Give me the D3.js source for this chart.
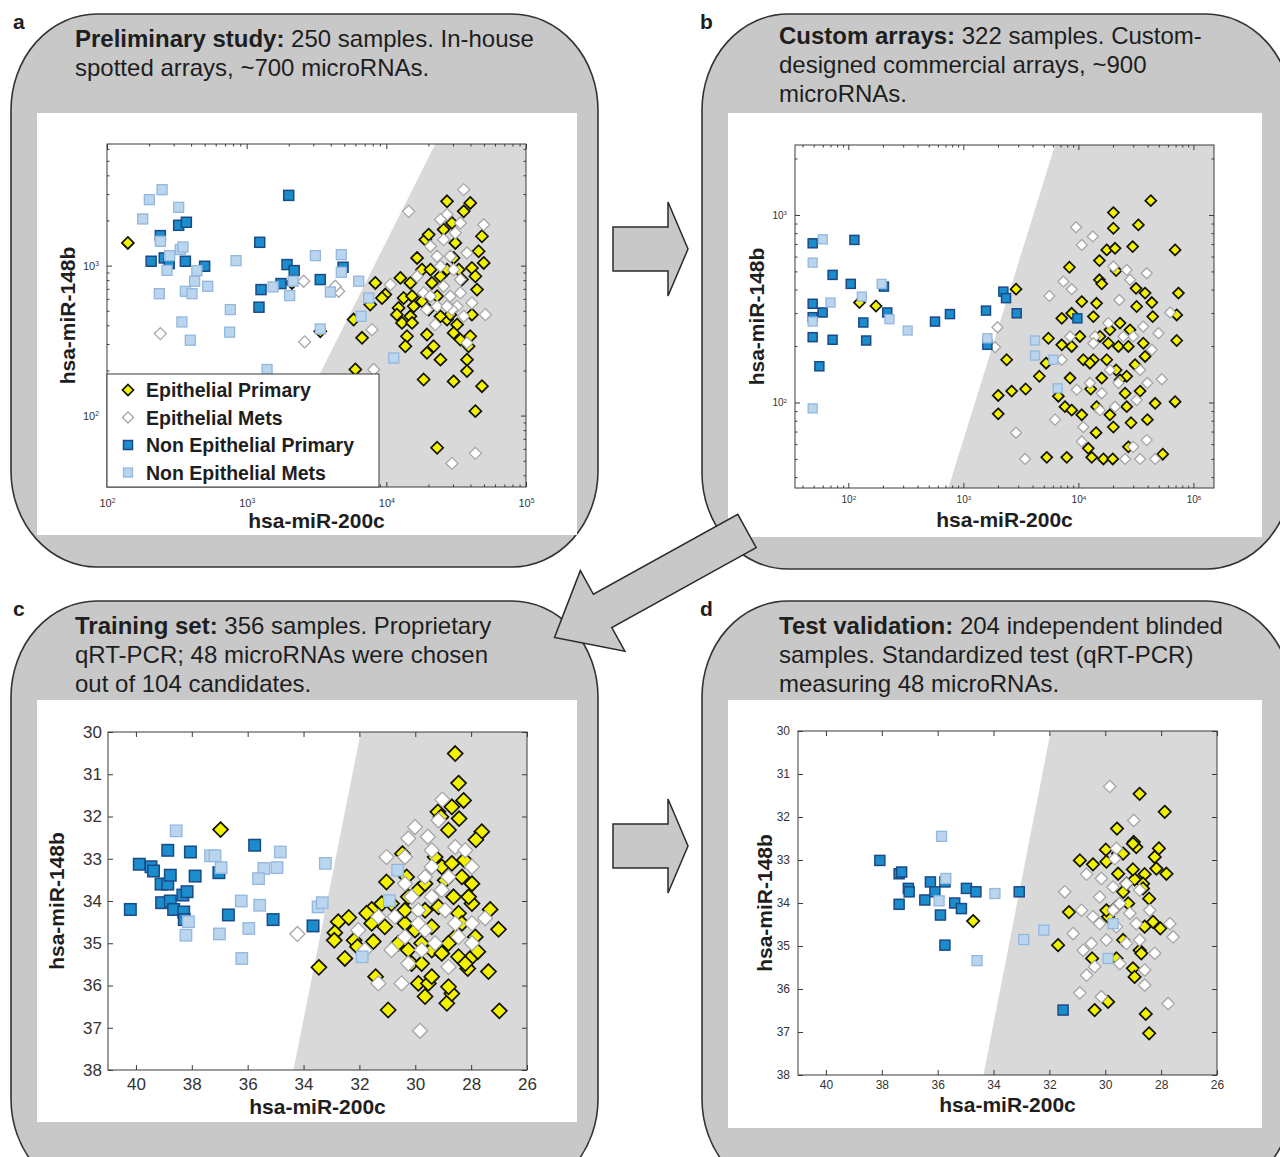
<!DOCTYPE html>
<html>
<head>
<meta charset="utf-8">
<script src="https://cdn.jsdelivr.net/npm/d3@7"></script>
<style>
    body { margin: 0; background: #fff; }
    svg { display: block; font-family: "Liberation Sans", Arial, sans-serif; }
</style>
</head>
<body>
<svg id="fig" width="1280" height="1157"></svg>
<script>
// ---- Series names and axis labels ----
var seriesNames = ["Epithelial Primary", "Epithelial Mets", "Non Epithelial Primary", "Non Epithelial Mets"];
var xAxisLabel = "hsa-miR-200c";
var yAxisLabel = "hsa-miR-148b";

// ---- Tick values ----
var logTicks = [100, 1000, 10000, 100000];
var ctTicksX = [40, 38, 36, 34, 32, 30, 28, 26];
var ctTicksY = [30, 31, 32, 33, 34, 35, 36, 37, 38];

// ---- Panel a: preliminary study (expression, log scale) ----
var aEpiPrimary = [[141,1416],[2110,766],[3365,365],[27200,2685],[39900,2618],[35800,2300],[48400,1570],[45800,1247],[49800,1042],[41000,964],[43400,849],[44600,692],[41000,471],[39900,338],[38800,290],[37800,236],[37800,198],[48400,157],[43400,107],[23100,61],[30300,169],[18500,174],[19000,1490],[20100,1610],[16600,1125],[18000,940],[12600,828],[14860,766],[8340,766],[9840,641],[9310,608],[13300,608],[15280,625],[18000,578],[15700,535],[12240,522],[11900,471],[14860,459],[12940,415],[15280,415],[7670,550],[5830,437],[6700,330],[6000,203],[14060,338],[13680,290],[19540,347],[19540,262],[21800,290],[24400,236],[27200,437],[32100,404],[28700,471],[24400,459],[30300,356],[33900,321],[21200,766],[20700,940],[30300,1125],[33000,940],[34800,807],[23100,625],[24400,849],[20100,509],[27200,940],[31200,1416],[25700,1738],[29500,1925]];
var aEpiMets = [[35800,3210],[14450,2300],[27200,2190],[33900,1925],[49800,1875],[24400,2028],[25700,1490],[20700,1345],[31200,1652],[23100,1155],[28700,1155],[37800,1214],[24400,990],[30300,940],[33900,807],[16600,849],[18500,658],[20700,625],[25700,728],[28700,625],[32100,535],[23100,535],[19500,509],[41000,564],[51200,471],[22400,404],[35800,459],[10700,747],[7890,374],[8110,203],[43400,56],[29500,48],[29500,509],[33900,658],[27200,535],[37800,305],[241,352],[2600,310],[2560,787],[4560,674],[4310,728]];
var aNonEpiPrimary = [[2000,2940],[326,1857],[370,1945],[241,1585],[207,1069],[257,1125],[279,1031],[364,1069],[500,990],[1240,1430],[1945,1016],[2190,926],[1267,692],[1760,759],[3365,807],[1225,528],[4900,975]];
var aNonEpiMets = [[248,3210],[201,2754],[180,2047],[326,2447],[241,1453],[281,1166],[335,1279],[350,1331],[269,930],[440,926],[424,787],[237,650],[364,674],[406,650],[526,728],[839,1079],[764,509],[344,421],[755,360],[395,318],[1545,721],[2032,631],[3105,1166],[3975,667],[4760,1183],[4760,903],[6340,787],[7470,608],[6590,459],[3365,378],[1400,203],[11300,242],[2150,787]];

// ---- Panel b: custom arrays (expression, log scale) ----
var bEpiPrimary = [[125,341],[174,327],[2870,402],[2380,169],[2010,109],[2010,87],[2630,115],[3480,118],[4580,138],[5240,162],[5490,220],[5310,51],[7170,281],[7170,203],[6700,108],[7650,95],[7920,51],[8360,526],[8750,299],[8750,199],[8470,135],[10700,86],[10700,345],[11050,169],[12790,118],[13060,51],[14250,69],[15240,571],[15240,451],[15960,429],[17640,651],[20150,1029],[20150,849],[20840,664],[21290,505],[29650,678],[33240,885],[31700,406],[38000,383],[42600,1192],[43500,341],[44300,287],[69300,651],[74100,383],[71600,293],[71600,214],[69300,101],[54100,53],[46500,99],[39800,81],[25500,112],[26300,95],[28700,78],[27200,58],[18800,86],[20150,74],[16500,50],[19900,50],[34400,115],[26300,138],[21290,149],[17640,169],[13500,169],[18800,244],[23000,265],[28100,244],[31100,159],[36700,207],[32100,325],[14400,338],[13500,287],[10300,225],[15400,225],[18200,207],[22300,199],[27200,199],[12600,162],[15960,135],[8750,91],[14400,95],[23000,132],[38000,176],[12200,57]];
var bEpiMets = [[9550,859],[13350,768],[10700,692],[7410,442],[8750,402],[5600,370],[1980,252],[1885,197],[2870,69],[3440,50],[6270,81],[10700,62],[11050,74],[15960,112],[22300,127],[39300,489],[62700,302],[53100,133],[39800,127],[28100,451],[22700,352],[18200,265],[13950,225],[8470,225],[7170,169],[9680,117],[30000,225],[43500,191],[34400,149],[20840,95],[15400,91],[39300,63],[30000,58],[46500,50],[25500,50],[34400,50],[18800,149],[24600,225],[32100,103],[12600,127],[20150,531],[26300,509],[13500,207],[36700,254],[49700,234]];
var bNonEpiPrimary = [[49,706],[113,736],[49,336],[49,285],[49,223],[59.8,302],[56,156],[73,479],[73,216],[105,429],[135,267],[143,214],[204,415],[218,302],[567,270],[765,296],[1574,309],[1618,203],[2228,390],[2350,360],[2910,299],[9800,281]];
var bNonEpiMets = [[60,741],[49,557],[70,341],[49,270],[49,93],[131,367],[195,429],[228,278],[328,242],[1618,220],[4200,214],[4200,178],[6060,169],[6610,119]];

// ---- Panel c: training set (qRT-PCR Ct values) ----
var cEpiPrimary = [[36.97,32.31],[33.45,35.57],[32.76,34.49],[32.88,34.75],[32.38,34.39],[32.52,35.36],[32.9,34.93],[32.19,34.93],[32.07,35.08],[31.56,34.2],[31.74,34.29],[31.5,34.96],[31.42,35.79],[30.97,36.58],[31.03,33.55],[30.46,32.88],[30.31,33.43],[30.25,33.9],[30.37,34.53],[30.25,35.16],[30.13,35.48],[29.89,35.95],[29.65,36.26],[29.53,35.95],[29.29,32.96],[29.05,33.19],[28.81,32.32],[29.19,31.89],[29.08,32.01],[28.69,31.77],[28.57,30.51],[28.45,31.21],[28.27,31.62],[28.43,32.05],[28.24,33.03],[27.97,33.59],[27.97,34.06],[27.85,34.85],[27.62,32.36],[27.83,32.55],[28.12,35.6],[27.97,35.32],[27.76,35.2],[27.32,34.2],[27.38,35.67],[27.02,34.67],[26.99,36.6],[28.87,36.42],[28.69,36.19],[28.81,36.03],[29.77,35.48],[29.65,34.22],[29.41,34.61],[29.17,34.14],[28.93,33.51],[28.63,33.9],[28.45,34.29],[28.33,34.53],[28.57,34.85],[28.81,35.0],[29.17,35.16],[29.41,35.16],[29.77,35.0],[30.01,34.69],[30.37,34.22],[30.85,34.06],[31.2,34.06],[31.56,34.53],[31.09,34.61],[30.61,35.0],[29.05,35.24],[28.45,35.32],[28.21,35.48],[29.89,33.74],[29.65,33.59],[28.69,33.11],[28.33,33.43],[28.09,33.9],[29.41,35.79]];
var cEpiMets = [[34.22,34.78],[29.83,37.07],[31.03,32.96],[30.25,32.52],[30.01,32.25],[29.55,32.48],[29.17,32.09],[29.03,31.6],[29.41,32.8],[30.37,32.96],[28.57,32.72],[28.21,32.8],[27.5,34.41],[27.97,33.19],[31.32,34.37],[31.32,35.95],[30.49,35.95],[29.77,35.16],[28.81,35.56],[28.45,34.85],[27.97,34.53],[29.89,34.22],[29.41,33.9],[30.37,34.85],[30.73,34.37],[28.93,34.22],[28.57,34.53],[29.65,34.69],[29.29,35.0],[30.13,33.9],[29.05,33.74],[30.85,35.16],[29.65,33.43],[29.41,33.19],[30.37,33.59],[28.81,33.43],[27.97,35.0],[30.25,35.48],[29.89,34.53],[32.04,34.69],[31.8,35.16]];
var cNonEpiPrimary = [[40.2,34.2],[39.88,33.13],[39.46,33.19],[39.37,33.29],[38.86,32.8],[39.1,33.6],[38.86,33.6],[38.77,33.39],[38.05,32.84],[37.88,33.41],[39.08,34.04],[38.77,34.0],[38.65,34.2],[38.32,33.86],[38.17,33.78],[38.29,34.26],[38.27,34.44],[37.03,33.33],[35.75,32.68],[36.69,34.33],[35.09,34.44],[33.66,34.59]];
var cNonEpiMets = [[38.56,32.34],[37.33,32.93],[37.17,32.93],[36.95,33.21],[34.83,32.84],[35.42,33.23],[34.95,33.21],[35.61,33.47],[36.23,34.0],[35.57,34.1],[35.96,34.65],[38.12,34.49],[38.21,34.81],[37.01,34.78],[36.21,35.36],[33.48,34.14],[33.33,34.04],[33.22,33.11],[30.63,33.27],[30.93,33.99],[31.9,35.32]];

// ---- Panel d: test validation (qRT-PCR Ct values) ----
var dEpiPrimary = [[34.73,34.42],[31.69,34.98],[31.3,34.21],[30.91,33.01],[30.44,33.1],[30.38,36.49],[29.9,36.3],[29.98,32.76],[29.58,32.27],[29.96,33.04],[29.54,32.85],[29.36,32.85],[28.77,31.46],[28.23,32.93],[27.87,31.88],[27.81,33.32],[28.08,32.73],[28.17,33.2],[28.59,33.33],[28.65,33.55],[28.43,33.9],[28.29,34.44],[28.59,34.55],[28.03,34.59],[28.77,35.1],[28.71,35.17],[29.01,35.52],[28.95,35.72],[28.55,36.58],[28.43,37.03],[28.95,33.45],[29.01,33.22],[29.36,33.74],[29.24,33.55],[29.6,34.09],[29.84,34.23],[29.9,34.32],[29.36,34.86],[29.6,35.29],[30.47,35.29],[28.98,32.58],[28.89,32.7],[29.01,32.62],[29.54,33.32],[29.96,34.17],[28.65,33.66],[29.18,34.01]];
var dEpiMets = [[29.84,31.29],[28.98,32.08],[29.6,32.73],[31.45,33.74],[30.85,34.17],[30.67,33.33],[31.15,34.71],[30.79,35.1],[30.91,36.09],[30.14,36.18],[30.38,35.48],[30.67,35.68],[29.96,34.86],[29.6,34.55],[29.24,34.94],[28.77,34.86],[28.59,35.56],[28.59,35.91],[28.23,35.17],[27.75,36.34],[27.69,34.48],[27.57,34.79],[28.41,34.17],[29.24,33.55],[29.72,33.63],[30.2,33.86],[30.44,34.32],[29.48,34.01],[28.89,34.48],[28.77,33.7],[29.72,34.17],[30.2,34.48],[29.48,35.41],[29.12,34.24],[30.5,34.94],[29.66,32.97],[30.14,33.43]];
var dNonEpiPrimary = [[38.07,33.01],[37.38,33.32],[37.29,33.28],[37.05,33.66],[37.02,33.74],[37.38,34.03],[36.26,33.51],[36.46,33.93],[36.1,33.74],[35.9,34.28],[35.74,34.98],[35.39,34.0],[35.15,34.13],[34.97,33.66],[34.63,33.74],[33.08,33.74],[31.51,36.49],[35.74,33.51]];
var dNonEpiMets = [[35.86,32.45],[35.71,33.43],[35.95,33.95],[33.95,33.78],[34.59,35.34],[32.92,34.85],[32.2,34.63],[29.72,34.48],[29.9,35.29]];

// ---- Classifier boundary (x at top of plot, x at bottom of plot) ----
var boundaryA = [22400, 1310];
var boundaryB = [6270, 741];
var boundaryCt = [31.95, 34.36];

// ---- Panel captions: [bold part, plain part] per line ----
var titleA = [["Preliminary study:", " 250 samples. In-house"], ["", "spotted arrays, ~700 microRNAs."]];
var titleB = [["Custom arrays:", " 322 samples. Custom-"], ["", "designed commercial arrays, ~900"], ["", "microRNAs."]];
var titleC = [["Training set:", " 356 samples. Proprietary"], ["", "qRT-PCR; 48 microRNAs were chosen"], ["", "out of 104 candidates."]];
var titleD = [["Test validation:", " 204 independent blinded"], ["", "samples. Standardized test (qRT-PCR)"], ["", "measuring 48 microRNAs."]];

// styles for the four sample groups
var styles = [
    { shape: "diamond", fill: "#f2f200", stroke: "#111100", sw: 1.7 },
    { shape: "diamond", fill: "#ffffff", stroke: "#a6a6a6", sw: 1.3 },
    { shape: "square", fill: "#1b8dcd", stroke: "#1a4a86", sw: 1.5 },
    { shape: "square", fill: "#bad6ef", stroke: "#94b7dd", sw: 1.3 }
];

var panelFill = "#c8c8c8";
var textColor = "#1e1e1e";
var svg = d3.select("#fig");

// rounded panel outline with elliptical corners
function boxPath(x0, y0, x1, y1, rx, ry) {
    return "M" + (x0 + rx) + "," + y0 + " H" + (x1 - rx) +
        " A" + rx + " " + ry + " 0 0 1 " + x1 + "," + (y0 + ry) +
        " V" + (y1 - ry) +
        " A" + rx + " " + ry + " 0 0 1 " + (x1 - rx) + "," + y1 +
        " H" + (x0 + rx) +
        " A" + rx + " " + ry + " 0 0 1 " + x0 + "," + (y1 - ry) +
        " V" + (y0 + ry) +
        " A" + rx + " " + ry + " 0 0 1 " + (x0 + rx) + "," + y0 + " Z";
}

function drawMarker(g, st, cx, cy, ds, ss) {
    if (st.shape === "diamond") {
        g.append("path")
            .attr("d", "M" + cx + "," + (cy - ds) + " L" + (cx + ds) + "," + cy +
                " L" + cx + "," + (cy + ds) + " L" + (cx - ds) + "," + cy + " Z")
            .attr("fill", st.fill).attr("stroke", st.stroke).attr("stroke-width", st.sw);
    } else {
        g.append("rect")
            .attr("x", cx - ss / 2).attr("y", cy - ss / 2)
            .attr("width", ss).attr("height", ss)
            .attr("fill", st.fill).attr("stroke", st.stroke).attr("stroke-width", st.sw);
    }
}

// write "10" with a superscript exponent
function logLabels(sel, fs) {
    sel.selectAll(".tick text").each(function (d) {
        var t = d3.select(this).text(null);
        t.append("tspan").text("10");
        t.append("tspan").attr("dy", "-0.55em").attr("font-size", (fs * 0.62) + "px")
            .text(Math.round(Math.log10(d)));
    });
}

function styleAxis(sel, fs) {
    sel.select(".domain").remove();
    sel.selectAll(".tick line").attr("stroke", "#3a3a3a");
    sel.selectAll(".tick text").attr("fill", "#333").style("font-size", fs + "px")
        .style("font-family", "'Liberation Sans', Arial, sans-serif");
}

function minorTicks(domain) {
    var out = [];
    var lo = Math.floor(Math.log10(domain[0])), hi = Math.ceil(Math.log10(domain[1]));
    for (var e = lo; e < hi; e++) {
        for (var k = 2; k <= 9; k++) {
            var v = k * Math.pow(10, e);
            if (v > domain[0] && v < domain[1]) out.push(v);
        }
    }
    return out;
}

function drawPanel(p) {
    var g = svg.append("g");
    var L = p.plot[0], T = p.plot[1], R = p.plot[2], B = p.plot[3];

    // grey rounded panel and white plot card
    g.append("path").attr("d", boxPath(p.box[0], p.box[1], p.box[2], p.box[3], 86, 96))
        .attr("fill", panelFill).attr("stroke", "#333").attr("stroke-width", 1.6);
    g.append("rect").attr("x", p.white[0]).attr("y", p.white[1])
        .attr("width", p.white[2] - p.white[0]).attr("height", p.white[3] - p.white[1])
        .attr("fill", "#fff");

    // panel letter
    svg.append("text").attr("x", p.letter[0]).attr("y", p.letter[1])
        .attr("font-size", 21).attr("font-weight", "bold").attr("fill", textColor).text(p.id);

    // caption lines
    p.title.forEach(function (line, i) {
        var t = g.append("text").attr("x", p.titleX).attr("y", p.titleY + i * 29)
            .attr("font-size", 24).attr("fill", textColor);
        if (line[0]) t.append("tspan").attr("font-weight", "bold").text(line[0]);
        t.append("tspan").text(line[1]);
    });

    // scales
    var x = (p.log ? d3.scaleLog() : d3.scaleLinear()).domain(p.xDomain).range([L, R]);
    var y = (p.log ? d3.scaleLog() : d3.scaleLinear()).domain(p.yDomain).range([B, T]);

    // clip to the axes box
    var clipId = "clip-" + p.id;
    g.append("clipPath").attr("id", clipId).append("rect")
        .attr("x", L).attr("y", T).attr("width", R - L).attr("height", B - T);
    var plot = g.append("g").attr("clip-path", "url(#" + clipId + ")");

    // shaded epithelial region, right of the boundary line
    plot.append("polygon")
        .attr("points", [[x(p.boundary[0]), T], [R, T], [R, B], [x(p.boundary[1]), B]].join(" "))
        .attr("fill", "#d9d9d9");

    // the four sample groups
    p.series.forEach(function (data, i) {
        data.forEach(function (d) {
            drawMarker(plot, styles[i], x(d[0]), y(d[1]), p.ds, p.ss);
        });
    });

    // axes: ticks inward on all four sides
    var xAx = g.append("g").attr("transform", "translate(0," + B + ")")
        .call(d3.axisBottom(x).tickValues(p.xTicks).tickSizeInner(-5).tickSizeOuter(0).tickPadding(p.xPad));
    var yAx = g.append("g").attr("transform", "translate(" + L + ",0)")
        .call(d3.axisLeft(y).tickValues(p.yTicks).tickSizeInner(-5).tickSizeOuter(0).tickPadding(p.yPad));
    var xTop = g.append("g").attr("transform", "translate(0," + T + ")")
        .call(d3.axisTop(x).tickValues(p.xTicks).tickSizeInner(-5).tickSizeOuter(0).tickFormat(""));
    var yRight = g.append("g").attr("transform", "translate(" + R + ",0)")
        .call(d3.axisRight(y).tickValues(p.yTicks).tickSizeInner(-5).tickSizeOuter(0).tickFormat(""));
    [xAx, yAx, xTop, yRight].forEach(function (a) { styleAxis(a, p.tickFont); });

    if (p.log) {
        logLabels(xAx, p.tickFont);
        logLabels(yAx, p.tickFont);
        var mx = minorTicks(p.xDomain), my = minorTicks(p.yDomain);
        [[d3.axisBottom(x), B, mx, "x"], [d3.axisTop(x), T, mx, "x"],
         [d3.axisLeft(y), L, my, "y"], [d3.axisRight(y), R, my, "y"]].forEach(function (m) {
            var a = g.append("g")
                .attr("transform", m[3] === "x" ? "translate(0," + m[1] + ")" : "translate(" + m[1] + ",0)")
                .call(m[0].tickValues(m[2]).tickSizeInner(-2.5).tickSizeOuter(0).tickFormat(""));
            styleAxis(a, p.tickFont);
        });
    }

    // axes box
    g.append("rect").attr("x", L).attr("y", T).attr("width", R - L).attr("height", B - T)
        .attr("fill", "none").attr("stroke", "#3a3a3a").attr("stroke-width", 1);

    // axis titles
    g.append("text").attr("x", (L + R) / 2).attr("y", p.xLabelY)
        .attr("text-anchor", "middle").attr("font-size", 21).attr("font-weight", "bold")
        .attr("fill", textColor).text(xAxisLabel);
    g.append("text").attr("transform", "translate(" + p.yLabelX + "," + ((T + B) / 2) + ") rotate(-90)")
        .attr("text-anchor", "middle").attr("font-size", 21).attr("font-weight", "bold")
        .attr("fill", textColor).text(yAxisLabel);

    return g;
}

// ---- panels ----
var gA = drawPanel({
    id: "a", box: [11, 14, 598, 567], white: [37, 113, 577, 535], plot: [107, 144, 526, 487],
    log: true, xDomain: [100, 100000], yDomain: [33.4, 6470],
    xTicks: logTicks, yTicks: [100, 1000], boundary: boundaryA,
    series: [aEpiPrimary, aEpiMets, aNonEpiPrimary, aNonEpiMets],
    ds: 6, ss: 10, tickFont: 11, xPad: 12, yPad: 8,
    xLabelY: 528, yLabelX: 75, letter: [13, 29], title: titleA, titleX: 75, titleY: 47
});
drawPanel({
    id: "b", box: [702, 14, 1292, 569], white: [728, 113, 1262, 537], plot: [795, 145, 1214, 488],
    log: true, xDomain: [34.4, 151000], yDomain: [35, 2360],
    xTicks: logTicks, yTicks: [100, 1000], boundary: boundaryB,
    series: [bEpiPrimary, bEpiMets, bNonEpiPrimary, bNonEpiMets],
    ds: 5.5, ss: 9, tickFont: 10, xPad: 8, yPad: 8,
    xLabelY: 527, yLabelX: 764, letter: [700, 29], title: titleB, titleX: 779, titleY: 44
});
drawPanel({
    id: "c", box: [11, 601, 598, 1195], white: [37, 700, 577, 1122], plot: [108, 732, 527, 1070],
    log: false, xDomain: [41, 26], yDomain: [38, 30],
    xTicks: ctTicksX, yTicks: ctTicksY, boundary: boundaryCt,
    series: [cEpiPrimary, cEpiMets, cNonEpiPrimary, cNonEpiMets],
    ds: 7.5, ss: 11.5, tickFont: 17, xPad: 8, yPad: 6,
    xLabelY: 1114, yLabelX: 64, letter: [13, 616], title: titleC, titleX: 75, titleY: 634
});
drawPanel({
    id: "d", box: [702, 601, 1292, 1195], white: [728, 700, 1262, 1128], plot: [798, 731, 1217, 1075],
    log: false, xDomain: [41, 26], yDomain: [38, 30],
    xTicks: ctTicksX, yTicks: ctTicksY, boundary: boundaryCt,
    series: [dEpiPrimary, dEpiMets, dNonEpiPrimary, dNonEpiMets],
    ds: 6.2, ss: 10, tickFont: 12, xPad: 5, yPad: 8,
    xLabelY: 1112, yLabelX: 772, letter: [700, 616], title: titleD, titleX: 779, titleY: 634
});

// ---- legend in panel a ----
var leg = gA.append("g");
leg.append("rect").attr("x", 107).attr("y", 374).attr("width", 272).attr("height", 113)
    .attr("fill", "#fff").attr("stroke", "#3a3a3a").attr("stroke-width", 1);
seriesNames.forEach(function (name, i) {
    var cy = 390 + i * 27.5;
    drawMarker(leg, styles[i], 128, cy, 5.5, 9);
    leg.append("text").attr("x", 146).attr("y", cy + 7)
        .attr("font-size", 19.5).attr("font-weight", "bold").attr("fill", textColor).text(name);
});

// ---- block arrows between panels ----
function blockArrow(sx, sy, angle, shaftLen, headLen, sh, hh) {
    var pts = [[0, -sh], [shaftLen, -sh], [shaftLen, -hh], [shaftLen + headLen, 0],
               [shaftLen, hh], [shaftLen, sh], [0, sh]];
    var c = Math.cos(angle), s = Math.sin(angle);
    return pts.map(function (q) {
        return [sx + q[0] * c - q[1] * s, sy + q[0] * s + q[1] * c];
    }).join(" ");
}
var arrowStyle = function (sel) {
    sel.attr("fill", panelFill).attr("stroke", "#2a2a2a").attr("stroke-width", 1.5)
        .attr("stroke-linejoin", "miter");
};
svg.append("polygon").attr("points", blockArrow(613, 249, 0, 55, 20, 22, 47)).call(arrowStyle);
svg.append("polygon").attr("points", blockArrow(613, 846, 0, 55, 20, 22, 47)).call(arrowStyle);
svg.append("polygon").attr("points", blockArrow(747, 531, Math.atan2(0.484, -0.875), 165, 55, 19, 46)).call(arrowStyle);
</script>
</body>
</html>
